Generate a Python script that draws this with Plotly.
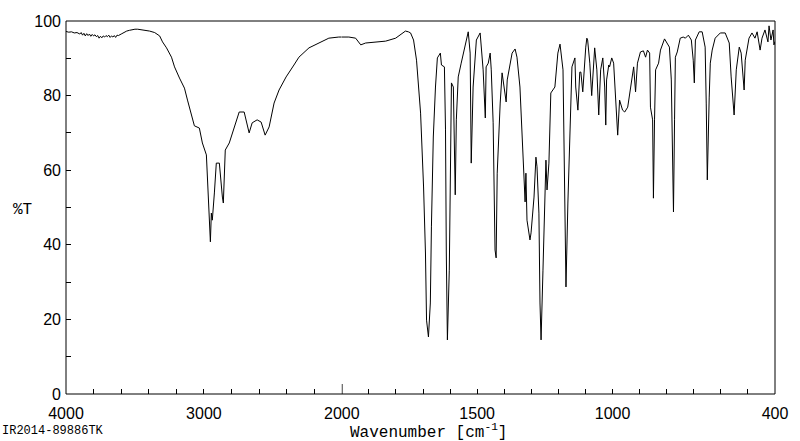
import plotly.graph_objects as go

# High-wavenumber segment (4000-2000 cm-1)
wn_hi = [4000, 3980, 3960, 3940, 3920, 3900, 3890, 3880, 3870, 3860, 3850, 3840, 3830, 3820,
         3810, 3800, 3790, 3780, 3770, 3760, 3750, 3740, 3730, 3720, 3710, 3700, 3690, 3680,
         3670, 3660, 3650, 3640, 3630, 3620, 3600, 3580, 3560, 3540, 3520, 3500, 3480, 3460,
         3440, 3430, 3394, 3357, 3321, 3300, 3271, 3235, 3213, 3177, 3141, 3119, 3105, 3090,
         3069, 3033, 3011, 2982, 2968, 2953, 2946, 2939, 2924, 2910, 2888, 2874, 2866, 2859,
         2845, 2816, 2794, 2765, 2744, 2708, 2686, 2672, 2650, 2614, 2585, 2556, 2527, 2491,
         2455, 2404, 2347, 2311, 2238, 2166, 2094, 2022, 2000]
t_hi = [97.2, 97.0, 97.1, 96.8, 96.9, 96.5, 96.9, 96.2, 96.7, 96.0, 96.6, 96.1, 96.5, 95.9,
        96.4, 96.0, 96.3, 95.8, 96.1, 95.4, 95.9, 95.5, 96.0, 95.7, 96.1, 95.8, 96.2, 95.6,
        96.0, 95.7, 96.1, 95.6, 96.2, 96.1, 96.5, 97.0, 97.3, 97.5, 97.7, 97.8, 97.8, 97.7,
        97.6, 97.6, 97.3, 96.9, 96.0, 94.4, 92.8, 90.3, 87.7, 84.7, 82.0, 78.8, 76.9, 75.3,
        71.9, 71.3, 67.3, 64.1, 51.2, 40.8, 48.5, 46.6, 53.9, 61.9, 61.9, 55.5, 52.8, 51.2,
        65.4, 67.3, 70.0, 73.5, 75.6, 75.6, 71.6, 70.0, 72.7, 73.5, 72.9, 69.4, 71.6, 78.0,
        81.5, 85.0, 88.2, 90.3, 92.8, 94.1, 95.4, 95.7, 95.7]

# Fingerprint segment (2000-400 cm-1)
wn_lo = [2000, 1974, 1949, 1930, 1912, 1875, 1838, 1801, 1790, 1772, 1765, 1754, 1746, 1735,
         1724, 1709, 1698, 1691, 1687, 1680, 1673, 1669, 1662, 1654, 1647, 1636, 1632, 1621,
         1617, 1614, 1610, 1603, 1599, 1595, 1588, 1581, 1577, 1570, 1559, 1544, 1533, 1526,
         1522, 1515, 1503, 1489, 1478, 1470, 1467, 1459, 1452, 1448, 1441, 1434, 1430, 1426,
         1423, 1415, 1408, 1400, 1393, 1389, 1378, 1371, 1360, 1353, 1342, 1331, 1323, 1320,
         1316, 1305, 1301, 1290, 1283, 1279, 1272, 1268, 1264, 1257, 1250, 1246, 1242, 1235,
         1228, 1213, 1202, 1194, 1183, 1176, 1172, 1165, 1157, 1150, 1139, 1136, 1128, 1121,
         1117, 1110, 1099, 1095, 1092, 1084, 1077, 1066, 1058, 1051, 1044, 1036, 1029, 1025,
         1022, 1014, 1011, 1003, 996, 989, 981, 974, 970, 963, 955, 944, 933, 922, 915, 908,
         897, 886, 878, 871, 863, 860, 852, 849, 845, 841, 830, 823, 808, 790, 783, 779, 775,
         771, 768, 761, 750, 739, 731, 720, 709, 702, 698, 694, 680, 669, 658, 654, 650, 643,
         639, 632, 621, 602, 584, 569, 562, 551, 543, 532, 525, 514, 510, 496, 485, 474, 466,
         455, 448, 437, 426, 422, 415, 407, 404, 400]
t_lo = [95.7, 95.7, 95.4, 93.6, 94.1, 94.4, 94.6, 95.4, 96.0, 97.1, 97.3, 97.1, 96.8, 94.9,
        89.5, 75.3, 55.5, 37.8, 19.8, 15.3, 24.4, 44.8, 68.9, 82.3, 90.1, 91.4, 88.2, 87.7,
        70.8, 37.8, 14.5, 33.2, 64.6, 83.4, 82.3, 53.4, 73.5, 85.0, 88.7, 94.1, 97.1, 91.4,
        61.9, 82.3, 94.9, 96.8, 86.9, 74.0, 87.7, 88.7, 91.4, 86.9, 72.7, 38.6, 36.5, 59.2,
        65.4, 78.0, 86.1, 82.3, 78.3, 84.2, 89.0, 91.4, 92.5, 90.3, 82.3, 66.2, 51.5, 59.2,
        46.6, 41.3, 43.2, 52.8, 63.5, 60.9, 48.5, 24.4, 14.5, 33.2, 55.5, 62.7, 54.7, 61.9,
        80.7, 82.3, 91.4, 93.8, 86.9, 46.6, 28.7, 51.2, 73.5, 87.7, 90.1, 82.3, 76.1, 86.3,
        86.3, 81.0, 93.0, 95.4, 94.9, 88.7, 80.0, 92.8, 86.9, 74.8, 86.9, 90.1, 82.3, 72.1,
        84.2, 88.2, 87.7, 90.1, 88.7, 80.7, 69.4, 78.8, 78.0, 76.1, 75.6, 76.9, 82.3, 87.7, 81.0, 88.7,
        91.7, 92.0, 90.3, 92.2, 91.4, 76.9, 73.5, 52.5, 73.5, 86.9, 88.7, 92.2, 95.2, 93.0, 84.2, 68.9, 48.8,
        73.5, 90.3, 91.7, 95.4, 95.7, 95.4, 96.2, 94.9, 89.5, 83.4, 94.9, 97.1, 97.1, 93.0, 78.0, 57.4, 79.6,
        88.7, 92.2, 95.4, 96.8, 96.8, 94.1, 85.0, 74.8, 86.9, 93.0, 91.4, 81.5, 89.5, 95.4, 96.8, 95.4, 97.1,
        92.2, 95.4, 97.6, 94.4, 98.7, 94.9, 97.6, 93.6, 94.5]

ticks_hi = [4000, 3800, 3600, 3400, 3200, 3000, 2800, 2600, 2400, 2200]
labels_hi = ["4000", "", "", "", "", "3000", "", "", "", ""]
ticks_lo = [2000, 1900, 1800, 1700, 1600, 1500, 1400, 1300, 1200, 1100, 1000, 900, 800, 700, 600, 500, 400]
labels_lo = ["2000", "", "", "", "", "1500", "", "", "", "", "1000", "", "", "", "", "", "400"]
y_ticks = [0, 10, 20, 30, 40, 50, 60, 70, 80, 90, 100]
y_labels = ["0", "", "20", "", "40", "", "60", "", "80", "", "100"]

split = 0.389
line = dict(color="black", width=1)
tickfont = dict(family="Liberation Sans, Arial, sans-serif", size=16, color="black")
mono = "Liberation Mono, Courier New, monospace"

fig = go.Figure()
fig.add_trace(go.Scatter(x=wn_hi, y=t_hi, mode="lines", line=line, xaxis="x", yaxis="y",
                         showlegend=False, hoverinfo="x+y"))
fig.add_trace(go.Scatter(x=wn_lo, y=t_lo, mode="lines", line=line, xaxis="x2", yaxis="y",
                         showlegend=False, hoverinfo="x+y"))

axis_common = dict(showgrid=False, zeroline=False, ticks="inside", ticklen=5, tickcolor="black",
                   tickwidth=1, tickfont=tickfont, showline=False)

fig.update_layout(
    width=800, height=441,
    margin=dict(l=66, r=22, t=21, b=47),
    paper_bgcolor="white", plot_bgcolor="white",
    xaxis=dict(domain=[0, split], range=[4000, 2000], tickmode="array", tickvals=ticks_hi,
               ticktext=labels_hi, anchor="y", ticklabelstandoff=8, **axis_common),
    xaxis2=dict(domain=[split, 1], range=[2000, 400], tickmode="array", tickvals=ticks_lo,
                ticktext=labels_lo, anchor="y", ticklabelstandoff=8, **axis_common),
    yaxis=dict(range=[0, 100], tickmode="array", tickvals=y_ticks, ticktext=y_labels,
               anchor="x", ticklabelstandoff=4, **axis_common),
    shapes=[
        dict(type="rect", xref="paper", yref="paper", x0=0, x1=1, y0=0, y1=1,
             line=dict(color="black", width=1)),
        dict(type="line", xref="x2", yref="paper", x0=2000, x1=2000, y0=0, y1=0.027,
             line=dict(color="black", width=1.5)),
    ],
    annotations=[
        dict(text="%T", xref="paper", yref="paper", x=-0.061, y=0.493, xanchor="center",
             yanchor="middle", showarrow=False,
             font=dict(family=mono, size=16, color="black")),
        dict(text="Wavenumber [cm<sup>-1</sup>]", xref="paper", yref="paper", x=0.511, y=-0.1,
             xanchor="center", yanchor="middle", showarrow=False,
             font=dict(family=mono, size=16, color="black")),
        dict(text="IR2014-89886TK", xref="paper", yref="paper", x=-0.093, y=-0.124,
             xanchor="left", yanchor="bottom", showarrow=False,
             font=dict(family=mono, size=12, color="black")),
    ],
)

fig.write_html("out.html")
